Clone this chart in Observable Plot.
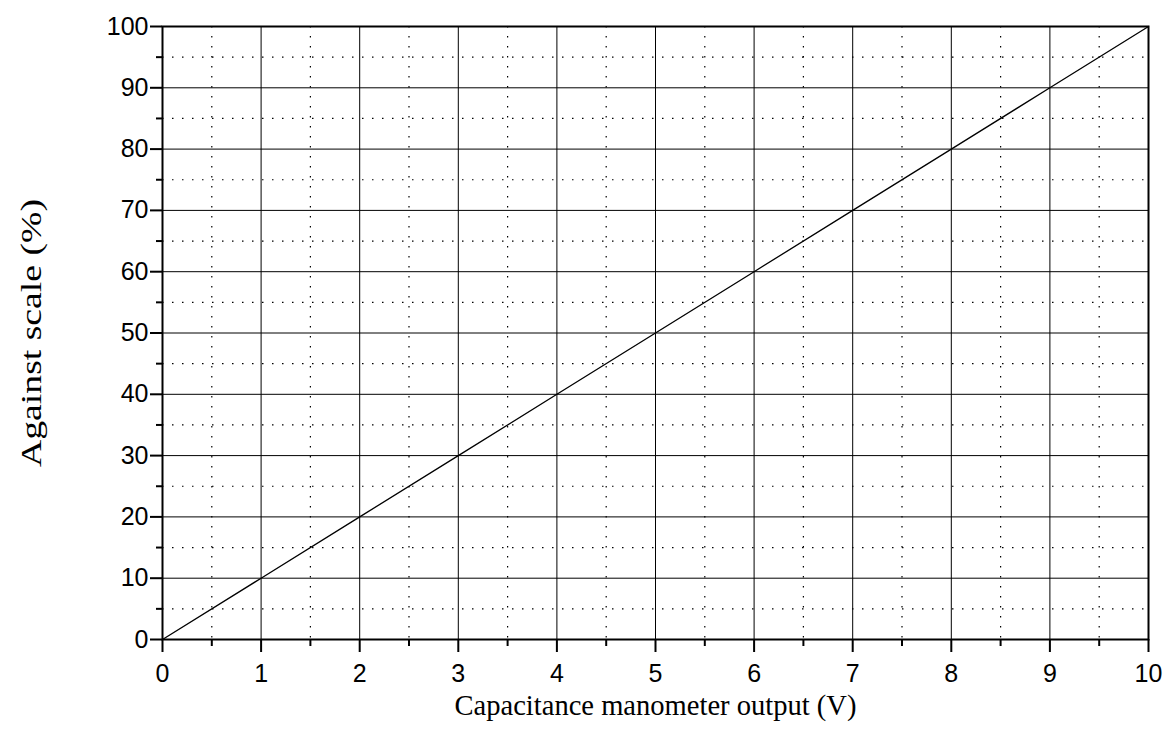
<!DOCTYPE html>
<html><head><meta charset="utf-8">
<script src="https://cdn.jsdelivr.net/npm/d3@7"></script>
<script src="https://cdn.jsdelivr.net/npm/@observablehq/plot@0.6"></script>
<style>body{margin:0;background:#fff}</style>
</head><body><div id="chart"></div>
<script>
const xValues = [0, 1, 2, 3, 4, 5, 6, 7, 8, 9, 10];
const yValues = [0, 10, 20, 30, 40, 50, 60, 70, 80, 90, 100];
const xMajorTicks = [0, 1, 2, 3, 4, 5, 6, 7, 8, 9, 10];
const xMinorTicks = [0.5, 1.5, 2.5, 3.5, 4.5, 5.5, 6.5, 7.5, 8.5, 9.5];
const yMajorTicks = [0, 10, 20, 30, 40, 50, 60, 70, 80, 90, 100];
const yMinorTicks = [5, 15, 25, 35, 45, 55, 65, 75, 85, 95];
const xLabel = "Capacitance manometer output (V)";
const yLabel = "Against scale (%)";

const data = xValues.map((x, i) => ({x, y: yValues[i]}));
const dotted = {stroke: "black", strokeOpacity: 1, strokeWidth: 1.2, strokeDasharray: "1.5,8.5"};
const solid = {stroke: "black", strokeOpacity: 1, strokeWidth: 1};
const serif = "'Liberation Serif', 'Times New Roman', serif";

const plot = Plot.plot({
  width: 1176, height: 744,
  marginLeft: 162, marginRight: 28, marginTop: 26, marginBottom: 105,
  x: {domain: [0, 10]},
  y: {domain: [0, 100]},
  style: {fontFamily: "'Liberation Sans', Arial, sans-serif", fontSize: "25px", color: "black", background: "white"},
  marks: [
    Plot.gridX(xMinorTicks, dotted),
    Plot.gridY(yMinorTicks, dotted),
    Plot.gridX(xMajorTicks, solid),
    Plot.gridY(yMajorTicks, solid),
    Plot.line(data, {x: "x", y: "y", stroke: "black", strokeWidth: 1.3}),
    Plot.axisX(xMinorTicks, {tickSize: 7, tickFormat: () => "", strokeWidth: 2, label: null}),
    Plot.axisY(yMinorTicks, {tickSize: 6, tickFormat: () => "", strokeWidth: 2, label: null}),
    Plot.axisX(xMajorTicks, {tickSize: 13, tickPadding: 12, strokeWidth: 2, label: null, tickFormat: d => String(d)}),
    Plot.axisY(yMajorTicks, {tickSize: 12, tickPadding: 2, strokeWidth: 2, label: null, tickFormat: d => String(d)}),
    Plot.frame({stroke: "black", strokeWidth: 2}),
    Plot.text([xLabel], {text: d => d, frameAnchor: "bottom", dy: 66, textAnchor: "middle", lineAnchor: "middle", fontFamily: serif, fontSize: 30, fill: "black"}),
    Plot.text([yLabel], {text: d => d, frameAnchor: "left", dx: -131, rotate: -90, textAnchor: "middle", lineAnchor: "middle", fontFamily: serif, fontSize: 30, fill: "black"})
  ]
});
d3.select(plot).selectAll("text")
  .filter(function() { return this.textContent === xLabel; })
  .attr("textLength", 402).attr("lengthAdjust", "spacingAndGlyphs");
d3.select(plot).selectAll("text")
  .filter(function() { return this.textContent === yLabel; })
  .attr("textLength", 268).attr("lengthAdjust", "spacingAndGlyphs");
document.getElementById("chart").appendChild(plot);
</script>
</body></html>
